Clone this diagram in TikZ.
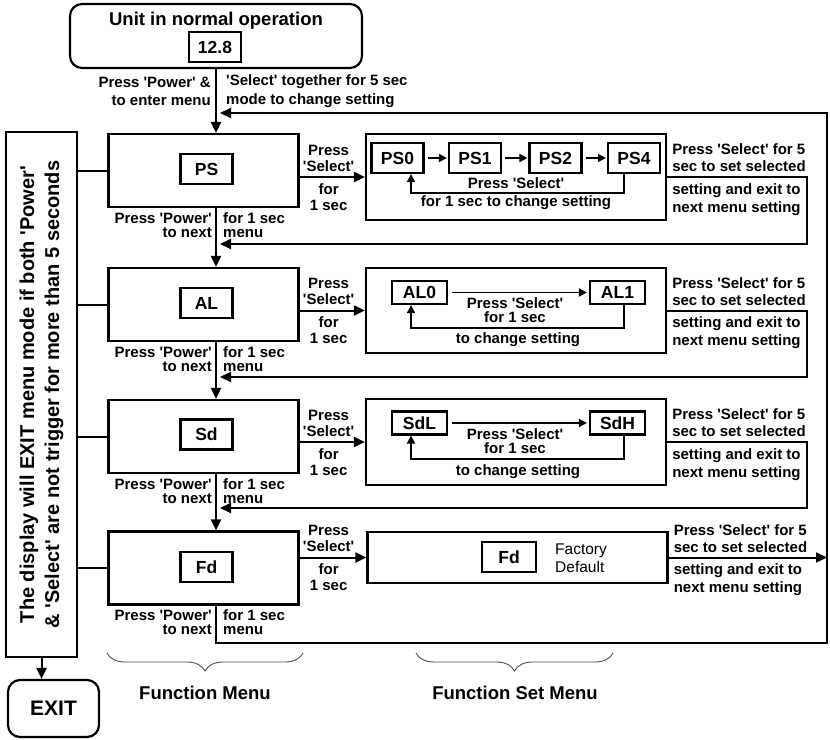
\documentclass[tikz,border=0pt]{standalone}
\usepackage{fontspec}
\setmainfont{Liberation Sans}
\usetikzlibrary{arrows.meta,positioning,calc,decorations.pathreplacing}
\newcommand\qs{\textquotesingle}
\newcommand\lblfont{\fontsize{15}{14}\selectfont\bfseries}
\newcommand\itemfont{\fontsize{17.5}{20}\selectfont\bfseries}
\newcommand\headfont{\fontsize{18.5}{22}\selectfont\bfseries}
\newcommand\notefont{\fontsize{20}{25}\selectfont\bfseries}
\tikzset{
  fnbox/.style={draw, line width=2.2pt, minimum width=190pt, minimum height=73pt},
  setbox/.style={draw, line width=2.2pt, minimum width=300pt},
  itembox/.style={draw, line width=2.2pt, font=\itemfont, inner sep=0pt, minimum width=52pt, minimum height=30pt},
  flatitem/.style={itembox, minimum width=55pt, minimum height=23pt},
  rbox/.style={draw, line width=2.2pt, rounded corners=12pt},
  lbl/.style={font=\lblfont, inner sep=0pt},
  wire/.style={line width=2pt},
  arr/.style={line width=2pt, -{Triangle[length=11pt,width=10pt]}},
  sarr/.style={line width=1.8pt, -{Triangle[length=8pt,width=8pt]}},
  brc/.style={decorate, decoration={brace, amplitude=18pt}, line width=0.9pt, black!70},
}
\begin{document}
\begin{tikzpicture}[x=1pt, y=-1pt]
\useasboundingbox (0,0) rectangle (830,739);

\node[rbox, minimum width=292pt, minimum height=64pt] (top) at (216,36) {};
\node[font=\headfont, inner sep=0pt] (title) at (216,21) {Unit in normal operation};
\node[itembox] (val) at (215,47) {12.8};
\node[lbl, anchor=east, align=right] (enter-l) at (211,91) {Press \qs Power\qs{} \&\\[4pt]to enter menu};
\node[lbl, anchor=west, align=left] (enter-r) at (226,91) {\qs Select\qs{} together for 5 sec\\[4pt]mode to change setting};

% function menu
\node[fnbox] (ps) at (203.5,170.5) {};
\node[fnbox] (al) at (203.5,304.5) {};
\node[fnbox] (sd) at (203.5,436.5) {};
\node[fnbox] (fd) at (203.5,568) {};
\node[itembox] (ps-i) at (206.5,169) {PS};
\node[itembox] (al-i) at (206.5,303) {AL};
\node[itembox] (sd-i) at (206.5,434.5) {Sd};
\node[itembox] (fd-i) at (206.5,567) {Fd};

% function set menu
\node[setbox, minimum height=86pt] (ps-set) at (516,177) {};
\node[setbox, minimum height=85pt] (al-set) at (516,310.5) {};
\node[setbox, minimum height=86pt] (sd-set) at (516,442) {};
\node[setbox, minimum height=51pt] (fd-set) at (517.5,557.5) {};

\node[itembox] (ps0) at (397.5,158) {PS0};
\node[itembox] (ps1) at (475,158) {PS1};
\node[itembox] (ps2) at (555.5,158) {PS2};
\node[itembox] (ps4) at (634,158) {PS4};
\draw[sarr, shorten <=3pt, shorten >=1pt] (ps0) -- (ps1);
\draw[sarr, shorten <=3pt, shorten >=1pt] (ps1) -- (ps2);
\draw[sarr, shorten <=3pt, shorten >=1pt] (ps2) -- (ps4);
\draw[sarr] ([xshift=-10pt]ps4.south) -- ++(0,19) -| ([xshift=13.5pt]ps0.south);
\node[lbl, align=center, font=\fontsize{15}{18}\selectfont\bfseries] (ps-note) at (516,194) {Press \qs Select\qs\\for 1 sec to change setting};

\node[flatitem] (al0) at (419.5,292.5) {AL0};
\node[flatitem] (al1) at (617.5,292.5) {AL1};
\draw[sarr, shorten <=4pt, shorten >=2pt] (al0) -- (al1);
\draw[sarr] ([xshift=6.5pt]al1.south) -- ++(0,23) -| ([xshift=-8.5pt]al0.south);
\node[lbl, align=center] (al-note) at (515,310) {Press \qs Select\qs\\for 1 sec};
\node[lbl] (al-chg) at (518,340) {to change setting};

\node[flatitem] (sdl) at (419.5,423) {SdL};
\node[flatitem] (sdh) at (617.5,423) {SdH};
\draw[sarr, shorten <=4pt, shorten >=2pt] (sdl) -- (sdh);
\draw[sarr] ([xshift=6.5pt]sdh.south) -- ++(0,23) -| ([xshift=-8.5pt]sdl.south);
\node[lbl, align=center] (sd-note) at (515,441) {Press \qs Select\qs\\for 1 sec};
\node[lbl] (sd-chg) at (518,472) {to change setting};

\node[itembox, minimum width=54pt] (fd-v) at (509,557) {Fd};
\node[inner sep=0pt, align=left, anchor=west, font=\fontsize{15.5}{18}\selectfont] (fd-txt) at (555,558) {Factory\\Default};

% main flow
\coordinate (rx) at (807,0);
\coordinate (ox) at (827,0);
\coordinate (bot) at (0,643);
\coordinate (top-back) at (220,113);
\coordinate (ps-back) at (220,244);
\coordinate (al-back) at (220,377);
\coordinate (sd-back) at (220,508);
\draw[arr] (top.south) -- (top.south |- ps.north);
\draw[arr] (top.south |- ps.south) -- (top.south |- al.north);
\draw[arr] (top.south |- al.south) -- (top.south |- sd.north);
\draw[arr] (top.south |- sd.south) -- (top.south |- fd.north);
\draw[arr] (top.south |- fd.south) -- (top.south |- bot) -| (ox |- top-back) -- (top-back);

\foreach \n in {ps,al,sd,fd}{
  \draw[arr] (\n.east |- \n-set.west) -- (\n-set.west);
  \node[lbl, align=center] at ($(\n.east |- \n-set.west)+(29,-19)$) {Press\\[2pt]\qs Select\qs};
  \node[lbl, align=center] at ($(\n.east |- \n-set.west)+(29,20)$) {for\\[2pt]1 sec};
  \node[lbl, anchor=east, align=right] at ($(\n.south)+(8.5,17)$) {Press \qs Power\qs\\to next};
  \node[lbl, anchor=west, align=left] at ($(\n.south)+(19.5,17)$) {for 1 sec\\menu};
  \node[lbl, anchor=south west, align=left] at ($(\n-set.east)+(5,-5)$) {Press \qs Select\qs{} for 5\\[3pt]sec to set selected};
  \node[lbl, anchor=north west, align=left] at ($(\n-set.east)+(5,6)$) {setting and exit to\\[3pt]next menu setting};
}
\foreach \n in {ps,al,sd}
  \draw[arr] (\n-set.east) -| (rx |- \n-back) -- (\n-back);
\draw[arr] (fd-set.east) -- (fd-set.east -| ox);

% exit
\node[draw, line width=2.2pt, rotate=90, minimum width=525pt, minimum height=71pt, inner sep=0pt, font=\notefont, align=center] (note) at (41.5,394.5) {The display will EXIT menu mode if both \qs Power\qs\\\& \qs Select\qs{} are not trigger for more than 5 seconds};
\foreach \n in {ps,al,sd,fd}
  \draw[wire] (\n.west) -- (note.south |- \n.west);
\node[rbox, minimum width=91pt, minimum height=57pt, font=\fontsize{21}{24}\selectfont\bfseries] (exit) at (53.5,708.5) {EXIT};
\draw[arr] (note.west) -- (note.west |- exit.north);

% braces
\draw[brc] (303,653) -- (107,653);
\draw[brc] (613,653) -- (416,653);
\node[font=\headfont] (fm) at (205,693) {Function Menu};
\node[font=\headfont] (fsm) at (515,693) {Function Set Menu};
\end{tikzpicture}
\end{document}
